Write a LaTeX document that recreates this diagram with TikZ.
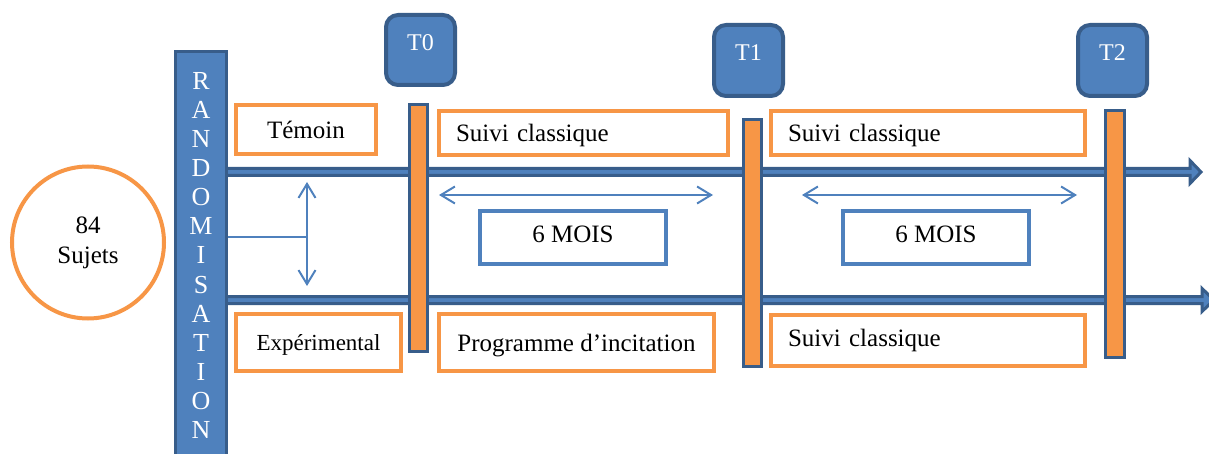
\documentclass[tikz,border=0pt]{standalone}
\usepackage{fontspec}
\setmainfont{Liberation Serif}
\usetikzlibrary{arrows.meta}
\definecolor{blu}{HTML}{4F81BD}
\definecolor{dblu}{HTML}{385D8A}
\definecolor{org}{HTML}{F79646}
\begin{document}
\begin{tikzpicture}[x=1pt,y=-1pt,
  every node/.style={inner sep=0pt, font=\fontsize{25}{30}\selectfont},
  obox/.style={draw=org, line width=4pt, fill=white, rectangle},
  mbox/.style={draw=blu, line width=3.5pt, fill=white, rectangle, minimum width=186pt, minimum height=53pt, text height=11pt, text depth=0pt},
  tbox/.style={draw=dblu, line width=4pt, fill=blu, rounded corners=12pt, minimum width=69pt, minimum height=70pt,
     text=white, font=\fontsize{24}{28}\selectfont, text height=17pt, text depth=16pt},
  tbar/.style={draw=dblu, line width=3pt, fill=org, rectangle, minimum width=18pt, minimum height=247pt},
  timeline/.style={draw=dblu, line width=3pt, fill=blu, line join=miter},
  darr/.style={draw=blu, line width=2pt, {Straight Barb[length=14pt,width=17pt]}-{Straight Barb[length=14pt,width=17pt]}},
  rl/.style={text=white, font=\fontsize{26}{29}\selectfont, anchor=base}
]
\useasboundingbox (0,0) rectangle (1209,454);
\clip (0,0) rectangle (1209,454);

% timelines
\draw[timeline] (226,168.5) -- (1190,168.5) -- (1190,160.5) -- (1201,172) -- (1190,183.5) -- (1190,175.5) -- (226,175.5) -- cycle;
\draw[timeline] (226,296.5) -- (1202,296.5) -- (1202,288.5) -- (1214,300) -- (1202,311.5) -- (1202,303.5) -- (226,303.5) -- cycle;

% randomisation bar
\node[draw=dblu, line width=3pt, fill=blu, rectangle, minimum width=51pt, minimum height=430pt, anchor=north] (rand) at (201,50.5) {};
\foreach \l [count=\i] in {R,A,N,D,O,M,I,S,A,T,I,O,N}
  \node[rl] (r\i) at (201,{90+29*(\i-1)}) {\l};

% subjects
\node[circle, draw=org, line width=4pt, fill=white, minimum size=152pt, align=center] (suj) at (88,242.5) {84\\Sujets};

% group boxes
\node[obox, minimum width=140pt, minimum height=49pt] (tem) at (306,129.5) {Témoin};
\node[obox, minimum width=165pt, minimum height=57pt, text depth=0pt, font=\fontsize{23}{28}\selectfont] (exp) at (318.5,342.5) {Expérimental};

% randomisation connector
\coordinate (ra) at (307,182);
\coordinate (rb) at (307,286);
\coordinate (rm) at (307,237);
\coordinate (rl0) at (228,237);
\draw[darr] (ra) -- (rb);
\draw[blu, line width=1.5pt] (rl0) -- (rm);

% period boxes
\node[obox, text width=255pt, inner xsep=17pt, minimum height=44pt, text depth=0pt, align=left] (s1) at (583.5,133) {Suivi classique};
\node[obox, text width=280pt, inner xsep=17pt, minimum height=44pt, text depth=0pt, align=left] (s2) at (928,133) {Suivi classique};
\node[obox, minimum width=275pt, minimum height=57pt, text depth=0pt] (prog) at (576.5,342.5) {Programme d’incitation};
\node[obox, text width=280pt, inner xsep=17pt, minimum height=51pt, align=left] (s3) at (928,340.5) {Suivi classique};

% durations
\coordinate (d1a) at (439,195);
\coordinate (d1b) at (713,195);
\coordinate (d2a) at (802,195);
\coordinate (d2b) at (1077,195);
\draw[darr] (d1a) -- (d1b);
\draw[darr] (d2a) -- (d2b);
\node[mbox] (m1) at (573,237.5) {6 MOIS};
\node[mbox] (m2) at (936,237.5) {6 MOIS};

% time bars
\node[tbar] (b0) at (418.5,228) {};
\node[tbar] (b1) at (752.5,243) {};
\node[tbar, minimum width=19pt] (b2) at (1115,234) {};

% time labels
\node[tbox] (t0) at (420.5,50) {T0};
\node[tbox, minimum height=71pt] (t1) at (748.5,60.5) {T1};
\node[tbox, minimum height=71pt] (t2) at (1112.5,60.5) {T2};
\end{tikzpicture}
\end{document}
